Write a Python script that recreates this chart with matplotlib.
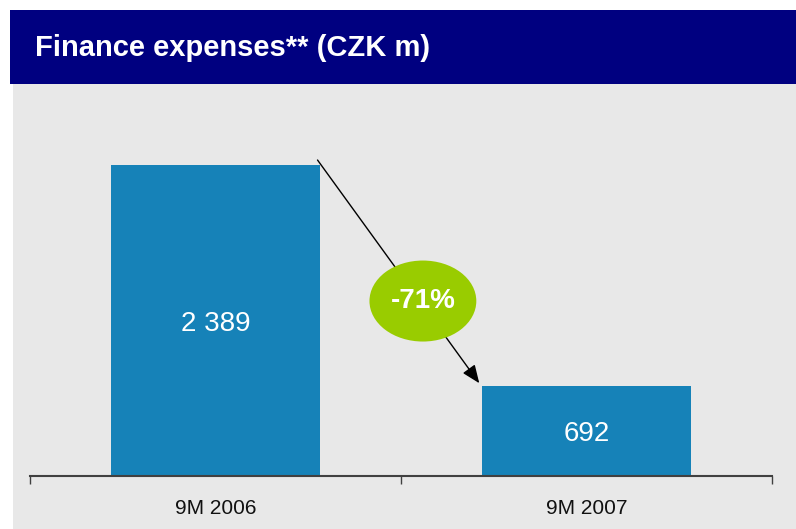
import numpy as np
import matplotlib.pyplot as plt
from matplotlib.patches import Rectangle, Ellipse

categories = ["9M 2006", "9M 2007"]
values = [2389, 692]
labels = ["2 389", "692"]
change = "-71%"

plt.rcParams['font.family'] = ['Liberation Sans', 'DejaVu Sans']

W, H = 796, 529
fig = plt.figure(figsize=(W/100, H/100), dpi=100)

# background panel and header bar (pixel coords -> figure fraction)
def fx(px): return px/W
def fy(py): return 1 - py/H
fig.patches.append(Rectangle((fx(13), 0), fx(796-13), fy(84), transform=fig.transFigure,
                             facecolor="#E8E8E8", edgecolor="none", zorder=-2))
fig.patches.append(Rectangle((fx(10), fy(84)), fx(796-10), (84-10)/H, transform=fig.transFigure,
                             facecolor="#000080", edgecolor="none", zorder=-1))
fig.text(fx(35), fy(48), "Finance expenses** (CZK m)", color="white", fontsize=21,
         fontweight="bold", va="center", ha="left")

# axes: x from 30 to 772 px, baseline at 476 px
ymax = 3000
px_unit = 2389/311  # data units per pixel
top_px = 476 - ymax/px_unit
ax = fig.add_axes([fx(30), fy(476), fx(772-30), (476-top_px)/H])
ax.patch.set_visible(False)

x = np.arange(len(values)) + 0.5
width = 0.566
bars = ax.bar(x, values, width=width, color="#1682B8", zorder=2)
for xi, v, lab in zip(x, values, labels):
    ax.text(xi, v/2 - 3*px_unit, lab, color="white", fontsize=20, ha="center", va="center", zorder=3)

ax.set_xlim(0, 2)
ax.set_ylim(0, ymax)
for s in ["top", "right", "left"]:
    ax.spines[s].set_visible(False)
ax.spines["bottom"].set_color("#404040")
ax.spines["bottom"].set_linewidth(1.5)
ax.set_yticks([])
ax.set_xticks([0, 1, 2])
ax.set_xticklabels([])
ax.tick_params(axis="x", direction="out", length=6, width=1, color="#404040")
for xi, c in zip(x, categories):
    ax.text(xi, -32*px_unit, c, fontsize=15, ha="center", va="center", color="#111111")

# arrow from first bar to second bar
x0 = x[0] + width/2 - 0.008
y0 = values[0] * 1.016
x1 = x[1] - width/2 - 0.006
y1 = values[1] * 1.03
ax.annotate("", xy=(x1, y1), xytext=(x0, y0),
            arrowprops=dict(arrowstyle="-|>,head_length=1.1,head_width=0.45", color="black", lw=1,
                            shrinkA=0, shrinkB=0), zorder=4)
ex, ey = 1.059, 1344
ax.add_patch(Ellipse((ex, ey), 0.288, 81*px_unit, facecolor="#99CC00", edgecolor="none", zorder=5))
ax.text(ex, ey, change, color="white", fontsize=20, fontweight="bold", ha="center", va="center", zorder=6)

fig.savefig("out.png", dpi=100)
